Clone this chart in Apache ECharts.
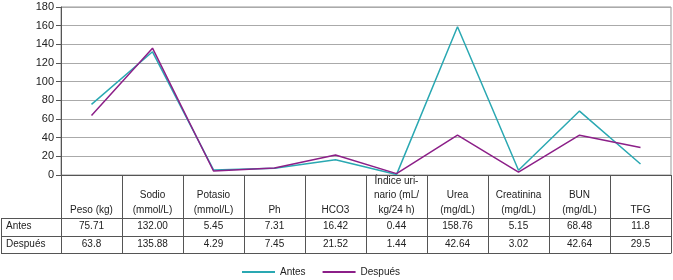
<!DOCTYPE html>
<html>
<head>
<meta charset="utf-8">
<script src="https://cdn.jsdelivr.net/npm/echarts@6/dist/echarts.min.js"></script>
<style>
html, body { margin: 0; padding: 0; background: #fff; }
#chart { width: 673px; height: 280px; }
</style>
</head>
<body>
<div id="chart"></div>
<script>
// parámetros (cabecera de la tabla)
var categorias = ['Peso (kg)', 'Sodio\n(mmol/L)', 'Potasio\n(mmol/L)', 'Ph', 'HCO3',
    'Índice uri-\nnario (mL/\nkg/24 h)', 'Urea\n(mg/dL)', 'Creatinina\n(mg/dL)', 'BUN\n(mg/dL)', 'TFG'];
var antesTxt = ['75.71', '132.00', '5.45', '7.31', '16.42', '0.44', '158.76', '5.15', '68.48', '11.8'];
var despuesTxt = ['63.8', '135.88', '4.29', '7.45', '21.52', '1.44', '42.64', '3.02', '42.64', '29.5'];
var filas = ['Antes', 'Después'];
var yTicks = [0, 20, 40, 60, 80, 100, 120, 140, 160, 180];

var antes = antesTxt.map(Number);
var despues = despuesTxt.map(Number);

var FONT = '"Liberation Sans", Arial, Helvetica, sans-serif';
var LINEA = '#555';

var chart = echarts.init(document.getElementById('chart'));

function ejeTabla(offset, tick, textos) {
    return {
        type: 'category',
        position: 'bottom',
        offset: offset,
        data: categorias,
        boundaryGap: true,
        axisLine: { show: true, lineStyle: { color: LINEA, width: 1 } },
        axisTick: { show: tick > 0, length: tick, alignWithLabel: false, lineStyle: { color: LINEA, width: 1 } },
        axisLabel: {
            show: !!textos,
            interval: 0,
            margin: 8.5,
            verticalAlign: 'middle',
            fontFamily: FONT,
            fontSize: 10,
            color: '#222',
            formatter: function (v, i) { return textos ? textos[i] : ''; }
        },
        splitLine: { show: false }
    };
}

var option = {
    animation: false,
    backgroundColor: '#fff',
    color: ['#2aa8b2', '#8c1f88'],
    grid: {
        left: 61, right: 2, top: 7, bottom: 105,
        show: true, borderColor: '#999', borderWidth: 1
    },
    legend: {
        data: filas,
        left: 242,
        top: 267,
        padding: 0,
        icon: 'rect',
        itemWidth: 33,
        itemHeight: 2,
        itemGap: 17,
        textStyle: { fontFamily: FONT, fontSize: 10, color: '#222' }
    },
    xAxis: [
        {
            type: 'category',
            position: 'bottom',
            data: categorias,
            boundaryGap: true,
            axisLine: { show: true, lineStyle: { color: LINEA, width: 1 } },
            axisTick: { show: true, length: 43, alignWithLabel: false, lineStyle: { color: LINEA, width: 1 } },
            axisLabel: {
                interval: 0,
                margin: 42,
                verticalAlign: 'bottom',
                lineHeight: 14.5,
                fontFamily: FONT,
                fontSize: 10,
                color: '#222'
            },
            splitLine: { show: false }
        },
        ejeTabla(43, 18, antesTxt),
        ejeTabla(61, 17, despuesTxt),
        ejeTabla(78, 0, null)
    ],
    yAxis: {
        type: 'value',
        min: yTicks[0],
        max: yTicks[yTicks.length - 1],
        interval: 20,
        axisLine: { show: true, lineStyle: { color: LINEA, width: 1 } },
        axisTick: { show: true, length: 5, lineStyle: { color: LINEA } },
        axisLabel: { margin: 7, fontFamily: FONT, fontSize: 11, color: '#222' },
        splitLine: { show: true, lineStyle: { color: '#aaa', width: 1 } }
    },
    series: [
        {
            name: filas[0], type: 'line', data: antes, xAxisIndex: 0,
            showSymbol: false, symbol: 'none',
            lineStyle: { width: 1.5 }
        },
        {
            name: filas[1], type: 'line', data: despues, xAxisIndex: 0,
            showSymbol: false, symbol: 'none',
            lineStyle: { width: 1.5 }
        }
    ],
    graphic: [
        // columna izquierda de la tabla
        { type: 'line', shape: { x1: 1.5, y1: 218, x2: 1.5, y2: 253 }, style: { stroke: LINEA, lineWidth: 1 } },
        { type: 'line', shape: { x1: 1, y1: 218.5, x2: 61, y2: 218.5 }, style: { stroke: LINEA, lineWidth: 1 } },
        { type: 'line', shape: { x1: 1, y1: 236.5, x2: 61, y2: 236.5 }, style: { stroke: LINEA, lineWidth: 1 } },
        { type: 'line', shape: { x1: 1, y1: 253.5, x2: 61, y2: 253.5 }, style: { stroke: LINEA, lineWidth: 1 } },
        { type: 'text', left: 6, top: 221, style: { text: filas[0], font: '10px ' + FONT, fill: '#222' } },
        { type: 'text', left: 6, top: 239, style: { text: filas[1], font: '10px ' + FONT, fill: '#222' } }
    ]
};

chart.setOption(option);
</script>
</body>
</html>
